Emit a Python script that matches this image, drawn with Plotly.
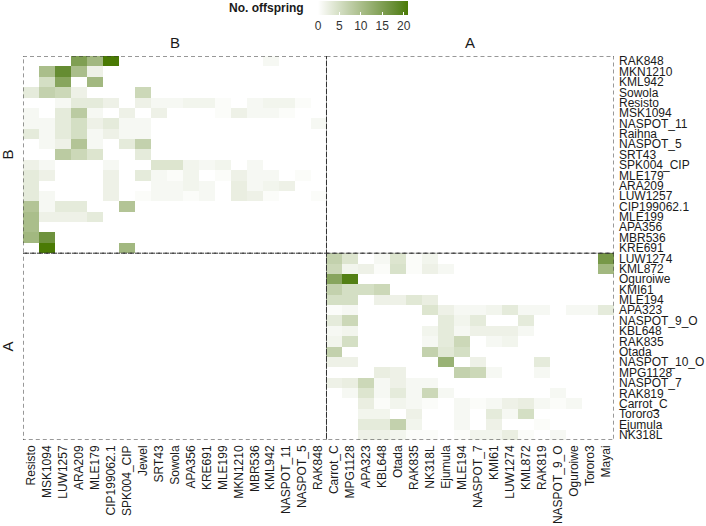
import plotly.graph_objects as go

rows_B = ["RAK848","MKN1210","KML942","Sowola","Resisto","MSK1094","NASPOT_11","Raihna","NASPOT_5","SRT43",
          "SPK004_CIP","MLE179","ARA209","LUW1257","CIP199062.1","MLE199","APA356","MBR536","KRE691"]
rows_A = ["LUW1274","KML872","Oguroiwe","KMI61","MLE194","APA323","NASPOT_9_O","KBL648","RAK835","Otada",
          "NASPOT_10_O","MPG1128","NASPOT_7","RAK819","Carrot_C","Tororo3","Ejumula","NK318L"]
cols_B = ["Resisto","MSK1094","LUW1257","ARA209","MLE179","CIP199062.1","SPK004_CIP","Jewel","SRT43","Sowola",
          "APA356","KRE691","MLE199","MKN1210","MBR536","KML942","NASPOT_11","NASPOT_5","RAK848"]
cols_A = ["Carrot_C","MPG1128","APA323","KBL648","Otada","RAK835","NK318L","Ejumula","MLE194","NASPOT_7",
          "KMI61","LUW1274","KML872","RAK819","NASPOT_9_O","Oguroiwe","Tororo3","Mayai"]

values_BB = [
    [0,0,0,15,11,21,0,0,0,0,0,0,0,0,0,1,0,0,0],
    [0,10,18,10,2,0,0,0,0,0,0,0,0,0,0,0,0,0,0],
    [0,5,14,0,11,0,0,0,0,0,0,0,0,0,0,0,0,0,0],
    [3,7,6,2,0,0,0,6,0,0,0,0,0,0,0,0,0,0,0],
    [0,0,1,3,3,2,0,2,1,1,1.5,1.5,0.5,0,1,1.5,1.5,0.5,0],
    [1,0,3,8,1,0,2,0,2,0,0,0,0.5,2,1,1,0.5,0,0],
    [1,1,3,5,2,3,1,1,0,0,0,0,0,0,0,0,0,0,1],
    [3,1,3,5,1,2,1,1,0,0,0,0,0,0,0,0,0,0,0],
    [0,1,2,9,1,0,3,7,0,0,0,0,0,0,0,0,0,0,0],
    [0,0,8,6,4,0,0,3,0,0,0,0,0,0,0,0,0,0,0],
    [2,1,0,0,0,1,0,0,4,4,1.5,1,1.5,0,1,0,0,0,0],
    [3,2,0,0,0,2,0,3,1,0.5,1.5,0,0.5,2,1,1,0,0.5,0],
    [3,0,0,0,0,2,0,0,1,1,1.5,1,0,2.5,1,1.5,2,0,0],
    [3,1,0,0,0,2,0,0.5,1,1,0.5,1,0,2.5,2,0.5,0,0,0.5],
    [9,1,3,3,0,0,9,0,0,0,0,0,0,0,0,0,0,0,0],
    [10,2,2,2,3,0,0,0,0,0,0,0,0,0,0,0,0,0,0],
    [10,0,0,0,0,0,0,0,0,0,0,0,0,0,0,0,0,0,0],
    [11,17,0,0,0,0,0,0,0,0,0,0,0,0,0,0,0,0,0],
    [0,21,0,0,0,0,11,0,0,0,0,0,0,0,0,0,0,0,0],
]

values_AA = [
    [7,4,0,1,4,0.5,1.5,0,0,0,0,0,0,0,0,0,0,16],
    [6,1.5,2,0.5,4.5,0.5,2,1,0,0,0,0,0,0,0,0,0,11],
    [14,20,0,0,0,0,0,0,0,0,0,0,0,0,0,0,0,0],
    [7,5,5,6,0,0,0,0,0,0,0,0,0,0,0,0,0,0],
    [5,5,0,2,2,3.5,2.5,0,0,0,0,0,0,0,0,0,0,0],
    [0.5,1,0,0,0,0,4,2,1,1,1.5,3,1,1,0,1,1,3],
    [3,6,0,0,0,0,0,3,1.5,3,0,0,3,0,0,0,0,0],
    [1,1.5,0,0,0,0,1.5,3,1,2,2,2,1,0,0,0,0,0],
    [1.5,5,0,0,0,0,1,3,6,0,1,1.5,0,0,0,0,0,0],
    [7,0,0,0,0,0,7,3.5,5,0,0,0,0,0,0,0,0,0],
    [2,2,0,0,0,0,0,12,0,2,0,0,0,3,0,0,0,0],
    [0,0,0,2.5,2,0,0,0,7,6,1,0,0,1,0,0,0,0],
    [2,2.5,6,1,2,1,1,0,0,0,0,0,0,0,0,0,0,0],
    [0,1,4,1,3,1,6,1,0,0,0,0,0,0,1,0,0,0],
    [0,0,2.5,0.5,1.5,1,0.5,0,1,0.5,1,2,2.5,1,0.5,1,0,0],
    [0,0,1.5,1.5,0,2,0,0,1,0,3,1,5,0,0,0,0,0],
    [0,0,3,3,7,1.5,0,0,1,0,2,0,0,0.5,0,0,0,0],
    [0,0,2,2,1.5,0.5,0.5,0,0.5,1.5,1.5,2.5,0.5,0,1,0,0,0],
]

cbar_ticks = [0, 5, 10, 15, 20]

# ---------- colour scale: white -> green, interpolated in CIE Lab ----------
def _lin(c):
    c = c / 255.0
    return c / 12.92 if c <= 0.04045 else ((c + 0.055) / 1.055) ** 2.4

def _gam(c):
    v = 12.92 * c if c <= 0.0031308 else 1.055 * (max(c, 0) ** (1 / 2.4)) - 0.055
    return int(round(max(0, min(1, v)) * 255))

_WX, _WY, _WZ = 0.95047, 1.0, 1.08883

def _to_lab(hexc):
    r, g, b = [_lin(int(hexc[i:i + 2], 16)) for i in (1, 3, 5)]
    X = 0.4124 * r + 0.3576 * g + 0.1805 * b
    Y = 0.2126 * r + 0.7152 * g + 0.0722 * b
    Z = 0.0193 * r + 0.1192 * g + 0.9505 * b
    def f(t):
        return t ** (1 / 3) if t > 0.008856 else 7.787 * t + 16 / 116
    fx, fy, fz = f(X / _WX), f(Y / _WY), f(Z / _WZ)
    return 116 * fy - 16, 500 * (fx - fy), 200 * (fy - fz)

def _from_lab(L, a, bb):
    fy = (L + 16) / 116
    fx = fy + a / 500
    fz = fy - bb / 200
    def fi(t):
        return t ** 3 if t ** 3 > 0.008856 else (t - 16 / 116) / 7.787
    X, Y, Z = fi(fx) * _WX, fi(fy) * _WY, fi(fz) * _WZ
    r = 3.2406 * X - 1.5372 * Y - 0.4986 * Z
    g = -0.9689 * X + 1.8758 * Y + 0.0415 * Z
    b = 0.0557 * X - 0.2040 * Y + 1.0570 * Z
    return "rgb(%d,%d,%d)" % (_gam(r), _gam(g), _gam(b))

low_col, high_col = "#FFFFFF", "#4A7A04"
L0, L1 = _to_lab(low_col), _to_lab(high_col)
nst = 12
colorscale = []
for i in range(nst + 1):
    t = i / nst
    colorscale.append([t, _from_lab(*[L0[k] + (L1[k] - L0[k]) * t for k in range(3)])])

# ---------- assemble grid ----------
rows = rows_B + rows_A
cols = cols_B + cols_A
nB_r, nA_r = len(rows_B), len(rows_A)
nB_c, nA_c = len(cols_B), len(cols_A)
z = []
for i in range(len(rows)):
    line = []
    for j in range(len(cols)):
        if i < nB_r and j < nB_c:
            v = values_BB[i][j]
        elif i >= nB_r and j >= nB_c:
            v = values_AA[i - nB_r][j - nB_c]
        else:
            v = None
        line.append(v)
    z.append(line)

W, H = 706, 526
ml, mr, mt, mb = 23, 92, 56, 86
pw, ph = W - ml - mr, H - mt - mb
FONT = "Liberation Sans, Arial, sans-serif"

cb_center_px = 363
cb_top_px = 1

fig = go.Figure(go.Heatmap(
    z=z, x=cols, y=rows,
    colorscale=colorscale, zmin=0, zmax=21,
    xgap=0, ygap=0, hoverongaps=False,
    colorbar=dict(
        orientation="h",
        x=(cb_center_px - ml) / pw, xanchor="center",
        y=(H - mb - cb_top_px) / ph, yanchor="top",
        len=90, lenmode="pixels", thickness=14,
        xpad=0, ypad=0, outlinewidth=0,
        tickvals=cbar_ticks, ticks="inside", ticklen=3, tickcolor="white", tickwidth=1,
        tickfont=dict(family=FONT, size=12, color="#333333"),
    ),
))

shapes = []
xb = [-0.5, nB_c - 0.5, nB_c + nA_c - 0.5]
yb = [-0.5, nB_r - 0.5, nB_r + nA_r - 0.5]
for a in range(2):
    for b in range(2):
        shapes.append(dict(type="rect", xref="x", yref="y",
                           x0=xb[a], x1=xb[a + 1], y0=yb[b], y1=yb[b + 1],
                           line=dict(color="#333333", width=1, dash="4px,3px"),
                           fillcolor="rgba(0,0,0,0)", layer="above"))

strip_font = dict(family=FONT, size=15, color="#1a1a1a")
annotations = [
    dict(text="B", x=(nB_c - 1) / 2, xref="x", y=1 + 13 / ph, yref="paper",
         showarrow=False, font=strip_font, xanchor="center", yanchor="middle"),
    dict(text="A", x=nB_c + (nA_c - 1) / 2, xref="x", y=1 + 13 / ph, yref="paper",
         showarrow=False, font=strip_font, xanchor="center", yanchor="middle"),
    dict(text="B", x=-15 / pw, xref="paper", y=1 - (nB_r / (nB_r + nA_r)) / 2, yref="paper",
         showarrow=False, font=strip_font, textangle=-90, xanchor="center", yanchor="middle"),
    dict(text="A", x=-15 / pw, xref="paper", y=(nA_r / (nB_r + nA_r)) / 2, yref="paper",
         showarrow=False, font=strip_font, textangle=-90, xanchor="center", yanchor="middle"),
    dict(text="<b>No. offspring</b>", x=(306 - ml) / pw, xref="paper", y=(H - mb - 8) / ph, yref="paper",
         showarrow=False, font=dict(family=FONT, size=12, color="#1a1a1a"),
         xanchor="right", yanchor="middle"),
]

fig.update_layout(
    width=W, height=H,
    margin=dict(l=ml, r=mr, t=mt, b=mb, pad=0, autoexpand=False),
    paper_bgcolor="white", plot_bgcolor="white",
    shapes=shapes, annotations=annotations,
    xaxis=dict(type="category", categoryorder="array", categoryarray=cols,
               tickmode="array", tickvals=cols, ticktext=cols,
               range=[-0.5, len(cols) - 0.5], tickangle=-90, showgrid=False, zeroline=False,
               showline=False, ticks="", automargin=False, ticklabelstandoff=2,
               tickfont=dict(family=FONT, size=12, color="#1a1a1a")),
    yaxis=dict(type="category", categoryorder="array", categoryarray=rows,
               tickmode="array", tickvals=rows, ticktext=rows,
               range=[len(rows) - 0.5, -0.5], side="right", showgrid=False, zeroline=False,
               showline=False, ticks="", automargin=False, ticklabelstandoff=4,
               tickfont=dict(family=FONT, size=12, color="#1a1a1a")),
)

fig.write_html("out.html")
